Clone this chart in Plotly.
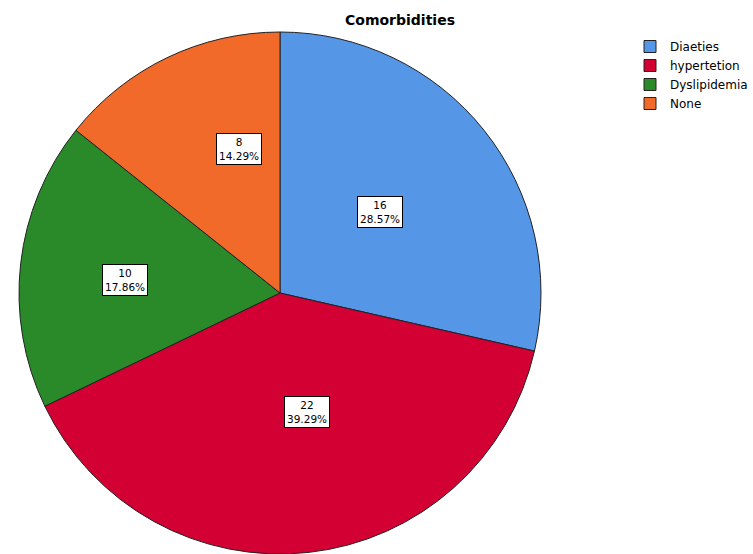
import plotly.graph_objects as go

categories = ["Diaeties", "hypertetion", "Dyslipidemia", "None"]
counts = [16, 22, 10, 8]
colors = ["#5596e6", "#d30033", "#2a8a2a", "#f26a2a"]

W, H = 753, 554
# label box centers in pixels (layout styling)
label_px = [(380, 212), (307, 428), (102, 280), (216, 133)]

total = sum(counts)
fig = go.Figure(go.Pie(
    labels=categories, values=counts, sort=False, direction="clockwise", rotation=0,
    marker=dict(colors=colors, line=dict(color="#222222", width=1)),
    textinfo="none", hoverinfo="label+value+percent",
    domain=dict(x=[(280 - 261) / W, (280 + 261) / W], y=[0, 1 - 32 / H]),
))

for (px, py), c in zip(label_px, counts):
    fig.add_annotation(
        x=px / W, y=1 - py / H, xref="paper", yref="paper",
        text=f"{c}<br>{c / total * 100:.2f}%", showarrow=False,
        font=dict(family="DejaVu Sans", size=10.5, color="#000"),
        bgcolor="white", bordercolor="#000", borderwidth=1, borderpad=2,
        align="center",
    )

fig.update_layout(
    width=W, height=H,
    margin=dict(l=0, r=0, t=0, b=0),
    paper_bgcolor="white", plot_bgcolor="white",
    title=dict(text="<b>Comorbidities</b>", x=400 / W, xanchor="center",
               y=1 - 20 / H, yanchor="middle", yref="container",
               font=dict(family="DejaVu Sans", size=14, color="#000")),
    legend=dict(x=630 / W, y=1 - 32 / H, xanchor="left", yanchor="top",
                font=dict(family="DejaVu Sans", size=12, color="#000"),
                traceorder="normal", itemclick=False),
    showlegend=True,
)

fig.write_html("out.html")
